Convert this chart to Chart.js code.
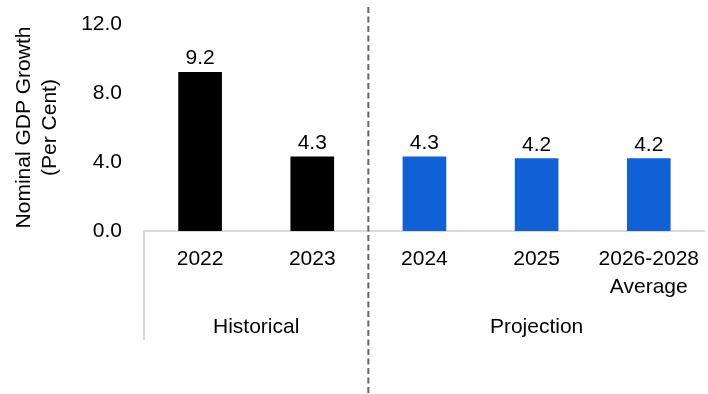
<!DOCTYPE html>
<html>
<head>
<meta charset="utf-8">
<script src="https://cdn.jsdelivr.net/npm/chart.js@4.4.1/dist/chart.umd.min.js"></script>
<style>
  html, body { margin: 0; padding: 0; background: #fff; overflow: hidden; }
  #wrap { position: relative; width: 714px; height: 394px; }
</style>
</head>
<body>
<div id="wrap"><canvas id="gdpChart"></canvas></div>
<script>
const categories = ["2022", "2023", "2024", "2025", ["2026-2028", "Average"]];
const growth = [9.2, 4.3, 4.3, 4.2, 4.2];
const barColors = ["#000000", "#000000", "#1160d5", "#1160d5", "#1160d5"];
const yTicks = [0, 4, 8, 12];
const groups = [
  { label: "Historical", from: 0, to: 1 },
  { label: "Projection", from: 2, to: 4 },
];

const FONT = "'Liberation Sans', Arial, sans-serif";

// value labels, group captions, the dashed split and the group brackets
const extras = {
  id: "extras",
  afterDatasetsDraw(chart) {
    const { ctx, chartArea, scales } = chart;
    const x = scales.x;
    const meta = chart.getDatasetMeta(0);

    ctx.save();
    ctx.font = "21px " + FONT;
    ctx.fillStyle = "#000";
    ctx.textAlign = "center";
    ctx.textBaseline = "alphabetic";
    meta.data.forEach((bar, i) => {
      ctx.fillText(growth[i].toFixed(1), bar.x, bar.y - 8);
    });

    const half = (x.getPixelForValue(1) - x.getPixelForValue(0)) / 2;
    const bracketBottom = 340;

    // left edge of the first group
    ctx.strokeStyle = "#d9d9d9";
    ctx.lineWidth = 2;
    ctx.beginPath();
    ctx.moveTo(chartArea.left, chartArea.bottom);
    ctx.lineTo(chartArea.left, bracketBottom);
    ctx.stroke();

    ctx.textBaseline = "middle";
    groups.forEach(g => {
      const l = x.getPixelForValue(g.from) - half;
      const r = x.getPixelForValue(g.to) + half;
      ctx.fillText(g.label, (l + r) / 2, 327);
    });

    // dashed divider between historical and projected years
    const split = (x.getPixelForValue(1) + x.getPixelForValue(2)) / 2;
    ctx.strokeStyle = "#666666";
    ctx.lineWidth = 2;
    ctx.setLineDash([6, 3.5]);
    ctx.beginPath();
    ctx.moveTo(split, 7);
    ctx.lineTo(split, chart.height);
    ctx.stroke();
    ctx.restore();
  }
};

new Chart(document.getElementById("gdpChart"), {
  type: "bar",
  data: {
    labels: categories,
    datasets: [{
      data: growth,
      backgroundColor: barColors,
      barThickness: 43,
    }]
  },
  options: {
    responsive: true,
    maintainAspectRatio: false,
    animation: false,
    layout: { padding: { top: 24, left: 0, right: 0, bottom: 0 } },
    plugins: {
      legend: { display: false },
      tooltip: { enabled: false },
    },
    scales: {
      x: {
        offset: true,
        grid: { display: false, drawTicks: false },
        border: { display: true, color: "#d9d9d9", width: 2 },
        ticks: {
          color: "#000",
          padding: 15,
          maxRotation: 0,
          autoSkip: false,
          font: { family: FONT, size: 21, lineHeight: 1.3 },
        },
        afterFit(scale) { scale.height = 163; },
      },
      y: {
        min: 0,
        max: 12,
        afterBuildTicks(scale) { scale.ticks = yTicks.map(v => ({ value: v })); },
        grid: { display: false, drawTicks: false },
        border: { display: false },
        ticks: {
          color: "#000",
          padding: 22,
          font: { family: FONT, size: 21 },
          callback: v => v.toFixed(1),
        },
        title: {
          display: true,
          text: ["Nominal GDP Growth", "(Per Cent)"],
          color: "#000",
          font: { family: FONT, size: 21, lineHeight: 1.2 },
          padding: { top: 12, bottom: 0 },
        },
        afterFit(scale) {
          scale.width = 144;
          // tick padding would otherwise push the plot top down
          scale.paddingTop = 0;
          scale.paddingBottom = 0;
        },
      }
    }
  },
  plugins: [extras]
});
</script>
</body>
</html>
